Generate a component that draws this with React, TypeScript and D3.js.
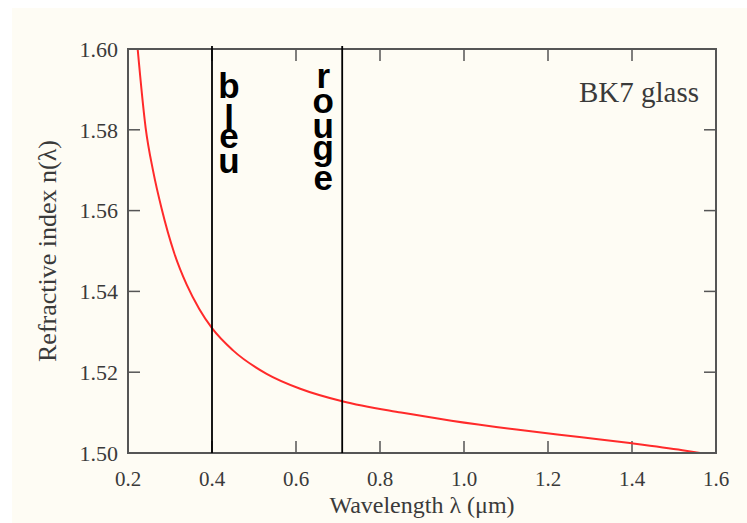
import React from "react";
import * as d3 from "d3";

// BK7 glass dispersion curve
const wavelength = [0.223, 0.242, 0.26, 0.28, 0.31, 0.34, 0.37, 0.4, 0.45, 0.53, 0.61, 0.71, 0.85, 0.97, 1.125, 1.28, 1.4, 1.52, 1.562];
const refIndex = [1.6, 1.5805, 1.5697, 1.5605, 1.5495, 1.5416, 1.5356, 1.5309, 1.5254, 1.5196, 1.5159, 1.5128, 1.51, 1.508, 1.5058, 1.5039, 1.5024, 1.5007, 1.5];

const xTicks = [0.2, 0.4, 0.6, 0.8, 1.0, 1.2, 1.4, 1.6];
const yTicks = [1.5, 1.52, 1.54, 1.56, 1.58, 1.6];

const markerNames = ["bleu", "rouge"];
const markerAt = [0.4, 0.71];

const W = 747;
const H = 523;
const left = 128, right = 716, top = 49, bottom = 453;
const tickLen = 12;

// letter baselines for the stacked labels (px from plot top) and side offset from the line
const letterBase = [[49, 81, 99, 124], [39, 64, 89, 111, 141]];
const letterDx = [17, -19];

const serif = "'Liberation Serif', 'DejaVu Serif', serif";
const sans = "'Liberation Sans', Arial, sans-serif";

const App = () => {
  const x = d3.scaleLinear().domain([0.2, 1.6]).range([left, right]);
  const y = d3.scaleLinear().domain([1.5, 1.6]).range([bottom, top]);

  const points = wavelength.map((w, i) => [w, refIndex[i]] as [number, number]);
  const line = d3.line<[number, number]>()
    .x(d => x(d[0]))
    .y(d => y(d[1]))
    .curve(d3.curveMonotoneX);

  const fx = d3.format(".1f");
  const fy = d3.format(".2f");
  const axisColor = "#555";
  const textColor = "#3a3a3a";

  return (
    <svg width={W} height={H} style={{ position: "absolute", left: 0, top: 0 }}>
      <rect x={0} y={0} width={W} height={H} fill="#fff" />
      <rect x={12} y={8} width={W - 12} height={H - 8} fill="#fefcf4" />

      <defs>
        <clipPath id="plot">
          <rect x={left} y={top} width={right - left} height={bottom - top} />
        </clipPath>
      </defs>

      {/* ticks on all four sides, pointing inward */}
      {xTicks.map(t => (
        <g key={"x" + t} stroke={axisColor} strokeWidth={1.5}>
          <line x1={x(t)} x2={x(t)} y1={bottom} y2={bottom - tickLen} />
          <line x1={x(t)} x2={x(t)} y1={top} y2={top + tickLen} />
        </g>
      ))}
      {yTicks.map(t => (
        <g key={"y" + t} stroke={axisColor} strokeWidth={1.5}>
          <line x1={left} x2={left + tickLen} y1={y(t)} y2={y(t)} />
          <line x1={right} x2={right - tickLen} y1={y(t)} y2={y(t)} />
        </g>
      ))}

      <path d={line(points) || ""} fill="none" stroke="#ff2a2a" strokeWidth={2} clipPath="url(#plot)" />

      <rect x={left} y={top} width={right - left} height={bottom - top} fill="none" stroke={axisColor} strokeWidth={2} />

      {markerNames.map((name, i) => (
        <g key={name}>
          <line x1={x(markerAt[i])} x2={x(markerAt[i])} y1={top - 3} y2={bottom} stroke="#000" strokeWidth={1.8} />
          {name.split("").map((ch, j) => (
            <text
              key={j}
              x={x(markerAt[i]) + letterDx[i]}
              y={top + letterBase[i][j]}
              textAnchor="middle"
              fontFamily={sans}
              fontWeight="bold"
              fontSize={35}
              fill="#000"
            >
              {ch}
            </text>
          ))}
        </g>
      ))}

      {xTicks.map(t => (
        <text key={"xl" + t} x={x(t)} y={486} textAnchor="middle" fontFamily={serif} fontSize={21} fill={textColor}>
          {fx(t)}
        </text>
      ))}
      {yTicks.map(t => (
        <text key={"yl" + t} x={118} y={y(t)} dy="0.35em" textAnchor="end" fontFamily={serif} fontSize={22} fill={textColor}>
          {fy(t)}
        </text>
      ))}

      <text x={(left + right) / 2} y={513} textAnchor="middle" fontFamily={serif} fontSize={24} fill={textColor}>
        Wavelength λ (μm)
      </text>
      <text
        transform={`translate(56,${(top + bottom) / 2}) rotate(-90)`}
        textAnchor="middle"
        fontFamily={serif}
        fontSize={26}
        fill={textColor}
      >
        Refractive index n(λ)
      </text>
      <text x={699} y={102} textAnchor="end" fontFamily={serif} fontSize={29} fill={textColor}>
        BK7 glass
      </text>
    </svg>
  );
};

export default App;
